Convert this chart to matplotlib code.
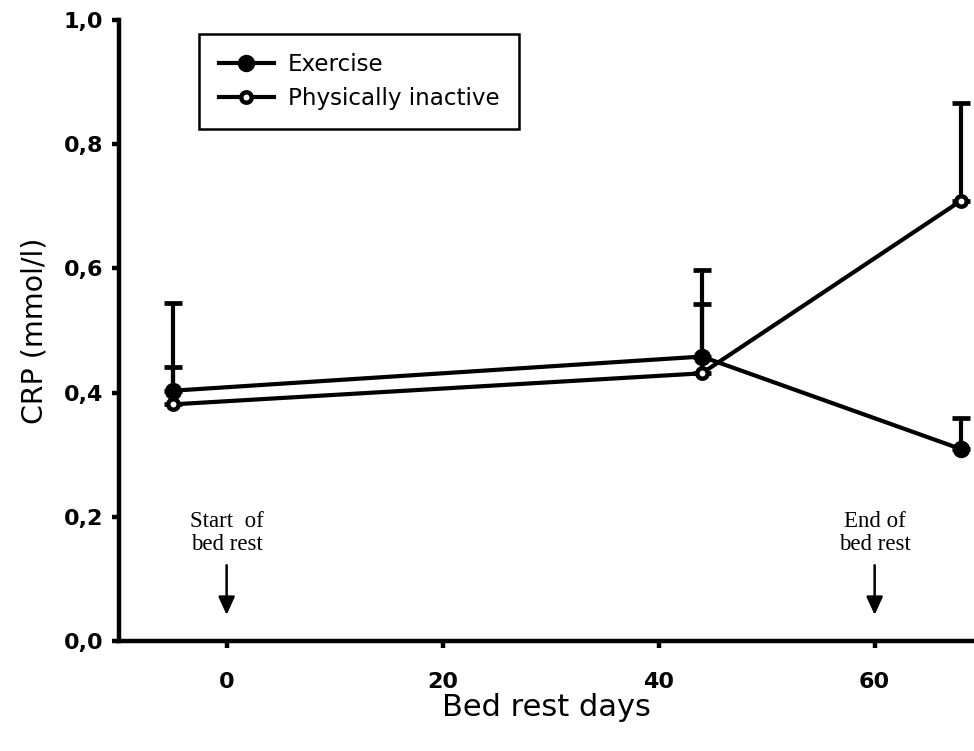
import matplotlib
matplotlib.use('Agg')
import matplotlib.pyplot as plt
import numpy as np

# bed rest days and CRP means / upper SEM
days = [-5, 44, 68]
exercise_mean = [0.403, 0.458, 0.309]
exercise_err = [0.142, 0.140, 0.050]
inactive_mean = [0.381, 0.431, 0.709]
inactive_err = [0.060, 0.111, 0.158]

x_ticks = [0, 20, 40, 60]
y_ticks = [0.0, 0.2, 0.4, 0.6, 0.8, 1.0]
y_ticklabels = ['0,0', '0,2', '0,4', '0,6', '0,8', '1,0']

fig = plt.figure(figsize=(9.74, 7.51), dpi=100)
ax = fig.add_axes([0.1218, 0.1465, 0.8782, 0.8269])

lw = 3.0
ax.errorbar(days, exercise_mean, yerr=[np.zeros(3), exercise_err], fmt='none',
            ecolor='black', elinewidth=lw, capsize=6.4, capthick=3.4, zorder=2)
ax.errorbar(days, inactive_mean, yerr=[np.zeros(3), inactive_err], fmt='none',
            ecolor='black', elinewidth=lw, capsize=6.4, capthick=3.4, zorder=2)

ax.plot(days, exercise_mean, color='black', lw=lw, marker='o', ms=11,
        mfc='black', mec='black', mew=1.5, label='Exercise', zorder=3)
ax.plot(days, inactive_mean, color='black', lw=lw, marker='o', ms=7.5,
        mfc='white', mec='black', mew=3.2, label='Physically inactive', zorder=4)

ax.set_xlim(-10, 69.2)
ax.set_ylim(0, 1.0)
ax.set_xticks(x_ticks)
ax.set_yticks(y_ticks)
ax.set_yticklabels(y_ticklabels)

for side in ['top', 'right']:
    ax.spines[side].set_visible(False)
for side in ['left', 'bottom']:
    ax.spines[side].set_linewidth(3.2)
ax.tick_params(axis='both', direction='out', length=5, width=3.2,
               labelsize=16)
ax.tick_params(axis='x', pad=17)
ax.tick_params(axis='y', pad=6)
for lab in ax.get_xticklabels() + ax.get_yticklabels():
    lab.set_fontweight('bold')
    lab.set_family('DejaVu Sans')

ax.set_xlabel('Bed rest days', fontsize=22, family='DejaVu Sans', labelpad=1)
ax.set_ylabel('CRP (mmol/l)', fontsize=20.5, family='DejaVu Sans', labelpad=11)

# bed rest markers
for xpos, txt in [(0, 'Start  of\nbed rest'), (60, 'End of\nbed rest')]:
    ax.text(xpos, 0.139, txt, ha='center', va='bottom', fontsize=16.5,
            family='Liberation Serif', linespacing=1.1)
    ax.annotate('', xy=(xpos, 0.042), xytext=(xpos, 0.122),
                arrowprops=dict(arrowstyle='-|>,head_length=1.1,head_width=0.5',
                                color='black', lw=1.8, shrinkA=0, shrinkB=0))

leg = ax.legend(loc='upper left', bbox_to_anchor=(0.094, 0.978),
                prop={'family': 'DejaVu Sans', 'size': 16.6},
                frameon=True, fancybox=False, edgecolor='black', framealpha=1,
                handlelength=2.4, handletextpad=0.6, labelspacing=0.45,
                borderpad=0.85, borderaxespad=0)
leg.get_frame().set_linewidth(1.8)

fig.savefig('out.png', dpi=100)
